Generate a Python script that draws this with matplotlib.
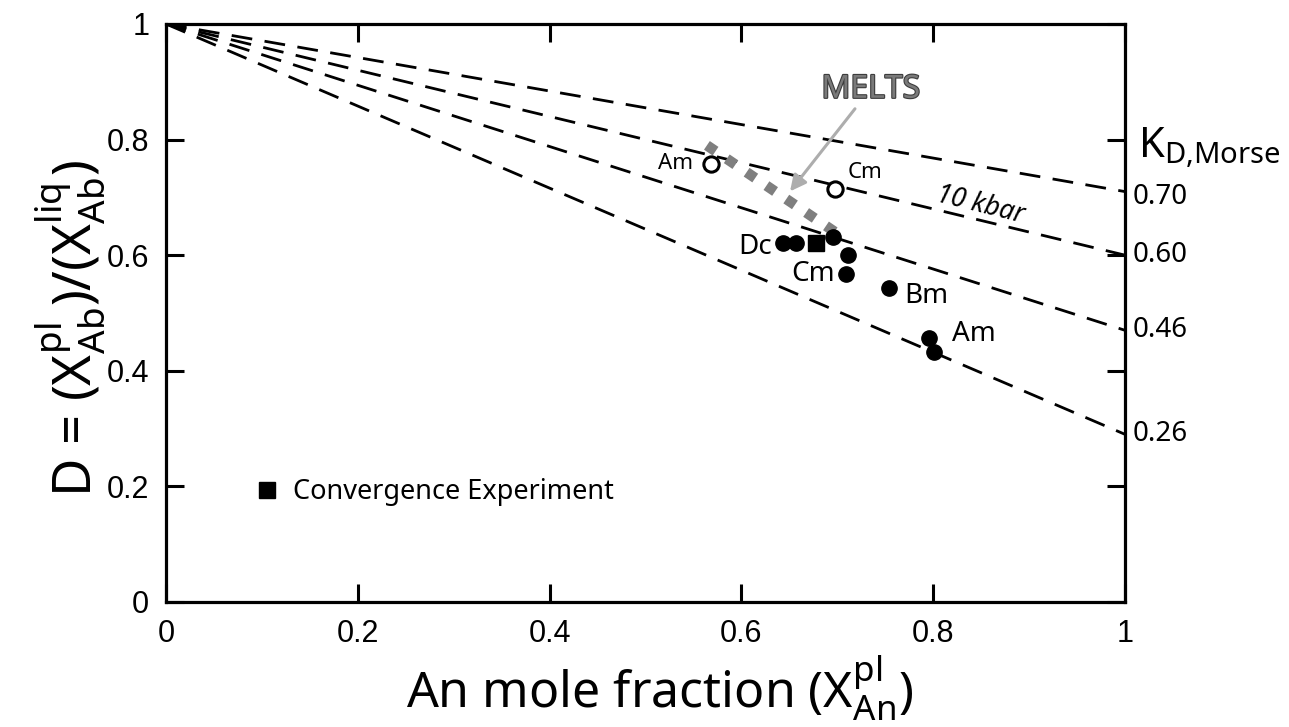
"""Plagioclase-liquid Ab partitioning vs An content, with Morse K_D reference lines."""

import matplotlib

matplotlib.use("Agg")
import matplotlib.pyplot as plt
import matplotlib.patheffects as pe
from matplotlib.lines import Line2D

plt.rcParams["font.family"] = ["Noto Sans", "DejaVu Sans"]
plt.rcParams["mathtext.fontset"] = "custom"
plt.rcParams["mathtext.rm"] = "Noto Sans"
plt.rcParams["mathtext.it"] = "Noto Sans:italic"
plt.rcParams["mathtext.bf"] = "Noto Sans:bold"

# K_D,Morse reference lines: start at D=1 (x=0), end value at x=1
kd_labels = ["0.70", "0.60", "0.46", "0.26"]
kd_end = [0.71, 0.60, 0.47, 0.29]

# filled circles (experiments)
filled_x = [0.643, 0.657, 0.696, 0.711, 0.709, 0.754, 0.796, 0.801]
filled_y = [0.621, 0.621, 0.631, 0.601, 0.568, 0.543, 0.457, 0.433]

# convergence experiment (square)
conv_x = [0.678]
conv_y = [0.621]

# open circles
open_x = [0.568, 0.698]
open_y = [0.758, 0.715]

# MELTS trend
melts_x = [0.564, 0.703]
melts_y = [0.790, 0.634]

ticks = [0, 0.2, 0.4, 0.6, 0.8, 1]
tick_labels = ["0", "0.2", "0.4", "0.6", "0.8", "1"]

fig = plt.figure(figsize=(12.89, 7.27), dpi=100)
ax = fig.add_axes([0.1288, 0.172, 0.744, 0.795])

for end in kd_end:
    ax.plot([0, 1], [1, end], color="black", lw=2.0, dashes=(7.5, 4.5), zorder=2)

ax.plot(melts_x, melts_y, color="#7f7f7f", lw=7.5, linestyle=(0, (1.0, 1.3)),
        solid_capstyle="butt", dash_capstyle="butt", zorder=3)

ax.plot(filled_x, filled_y, "o", color="black", ms=11, zorder=4)
ax.plot(conv_x, conv_y, "s", color="black", ms=11, zorder=4)
ax.plot(open_x, open_y, "o", mfc="white", mec="black", mew=2.2, ms=11, zorder=4)

# point labels
lab_kw = dict(textcoords="offset points", va="center", fontsize=20)
ax.annotate("Dc", (filled_x[0], filled_y[0]), xytext=(-8, -3), ha="right", **lab_kw)
ax.annotate("Cm", (filled_x[4], filled_y[4]), xytext=(-8, 0), ha="right", **lab_kw)
ax.annotate("Bm", (filled_x[5], filled_y[5]), xytext=(11, -5.5), ha="left", **lab_kw)
ax.annotate("Am", (filled_x[6], filled_y[6]), xytext=(16, 2.4), ha="left", **lab_kw)
small_kw = dict(textcoords="offset points", va="center", fontsize=16)
ax.annotate("Am", (open_x[0], open_y[0]), xytext=(-13, 0), ha="right", **small_kw)
ax.annotate("Cm", (open_x[1], open_y[1]), xytext=(8.5, 12), ha="left", **small_kw)

# MELTS label and arrow
ax.text(0.735, 0.887, "MELTS", fontsize=23, fontweight="bold", color="#7a7a7a",
        ha="center", va="center",
        path_effects=[pe.withStroke(linewidth=1.6, foreground="#3c3c3c")])
ax.annotate("", xy=(0.6507, 0.7104), xytext=(0.7184, 0.8533),
            arrowprops=dict(arrowstyle="-|>", color="#adadad", lw=2.2,
                            mutation_scale=24, shrinkA=0, shrinkB=0))

ax.text(0.849, 0.687, "10 kbar", fontsize=19, style="italic", rotation=-14,
        ha="center", va="center")

# K_D labels at the right edge
for lab, end in zip(kd_labels, [0.70, 0.60, 0.47, 0.29]):
    ax.text(1.008, end, lab, fontsize=20, ha="left", va="center", clip_on=False)
ax.text(1.014, 0.785, r"K$_{\mathrm{D{,}Morse}}$", fontsize=30, ha="left", va="center")

# legend
handle = Line2D([], [], marker="s", color="black", ls="none", ms=11)
ax.legend([handle], ["Convergence Experiment"], loc="center left",
          bbox_to_anchor=(0.093, 0.19), frameon=False, fontsize=19.5,
          handlelength=0.9, handletextpad=0.5, borderpad=0, borderaxespad=0,
          numpoints=1)

ax.set_xlim(0, 1)
ax.set_ylim(0, 1)
ax.set_xticks(ticks)
ax.set_yticks(ticks)
ax.set_xticklabels(tick_labels)
ax.set_yticklabels(tick_labels)
for lbl in ax.get_xticklabels() + ax.get_yticklabels():
    lbl.set_fontfamily("Liberation Sans")
    lbl.set_fontsize(22)
ax.tick_params(direction="in", length=13, width=2.2, top=True, right=True, pad=12)
for sp in ax.spines.values():
    sp.set_linewidth(2.3)

ax.set_xlabel(r"An mole fraction ($\mathrm{X}_{\mathrm{An}}^{\mathrm{pl}}$)", fontsize=36)
ax.set_ylabel(r"D = ($\mathrm{X}_{\mathrm{Ab}}^{\mathrm{pl}}$)/($\mathrm{X}_{\mathrm{Ab}}^{\mathrm{liq}}$)",
              fontsize=38)
ax.xaxis.set_label_coords(0.515, -0.088)
ax.yaxis.set_label_coords(-0.062, 0.474)

fig.savefig("out.png", dpi=100, facecolor="white")
